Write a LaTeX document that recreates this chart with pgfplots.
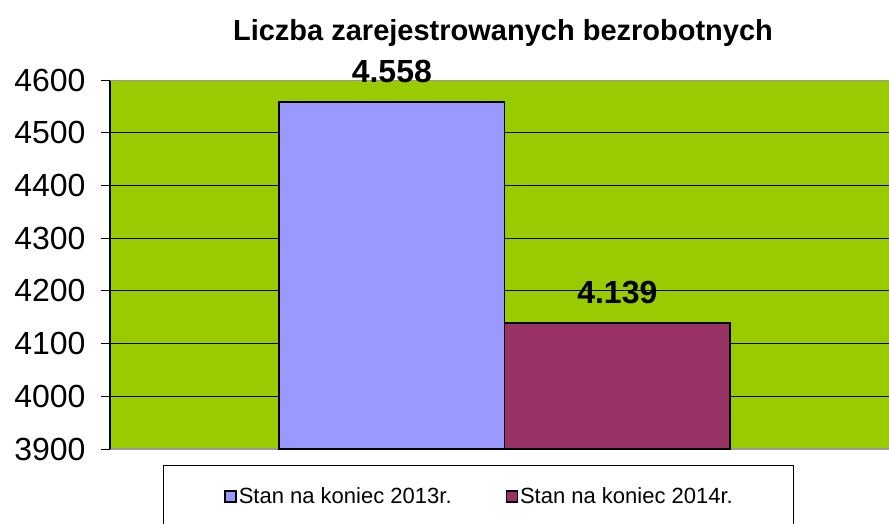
\documentclass[border=0pt]{standalone}
\usepackage{fontspec}
\setmainfont{Liberation Sans}
\usepackage{pgfplots}
\pgfplotsset{compat=1.18}
\definecolor{plotgreen}{HTML}{99CC00}
\definecolor{barone}{HTML}{9999FF}
\definecolor{bartwo}{HTML}{993366}
\begin{document}
\begin{tikzpicture}
\useasboundingbox (0,0) rectangle (889pt,523pt);
\clip (0,0) rectangle (889pt,523pt);
\begin{axis}[
  at={(110pt,74pt)}, anchor=south west,
  scale only axis, width=779pt, height=369pt,
  xmin=-1.25, xmax=2.205, ymin=3900, ymax=4600,
  ytick={3900,4000,4100,4200,4300,4400,4500,4600},
  xtick=\empty,
  axis lines=left,
  axis line style={-},
  x axis line style={draw=gray!80, line width=1.2pt},
  y axis line style={draw=black, line width=1.2pt},
  tick align=outside,
  major tick length=9pt,
  ytick style={black, line width=0.8pt},
  axis background/.style={fill=plotgreen},
  ymajorgrids,
  major grid style={black, line width=0.9pt},
  yticklabel style={font=\fontsize{32}{36}\selectfont, xshift=-12pt,
    /pgf/number format/assume math mode=true,
    /pgf/number format/1000 sep={}},
  legend columns=2,
  legend style={draw=none, fill=none, at={(0.4745,-0.1287)}, anchor=center,
    font=\fontsize{22}{26}\selectfont,
    /tikz/every even column/.append style={column sep=52pt},
    nodes={inner xsep=2pt}},
  legend image code/.code={\draw[#1, line width=1.4pt] (0pt,-5.5pt) rectangle (11pt,5.5pt);},
  nodes near coords,
  every node near coord/.append style={font=\fontsize{32}{36}\selectfont\bfseries,
    /pgf/number format/assume math mode=true,
    /pgf/number format/1000 sep={.}},
]
\addplot[ybar, bar width=1, bar shift=0pt, fill=barone, draw=black, line width=1.4pt,
  every node near coord/.append style={yshift=15pt}]
  coordinates {(0,4558)};
\addlegendentry{Stan na koniec 2013r.}
\addplot[ybar, bar width=1, bar shift=0pt, fill=bartwo, draw=black, line width=1.4pt,
  every node near coord/.append style={yshift=15pt}]
  coordinates {(1,4139)};
\addlegendentry{Stan na koniec 2014r.}
\draw[gray!80, line width=1.5pt] (rel axis cs:0,1) -- (rel axis cs:1,1);
\end{axis}
\draw[black, line width=0.8pt] (163pt,-5pt) rectangle (793pt,58pt);
\node[font=\fontsize{29}{34}\selectfont\bfseries, anchor=base] at (503pt,482pt) {Liczba zarejestrowanych bezrobotnych};
\end{tikzpicture}
\end{document}
